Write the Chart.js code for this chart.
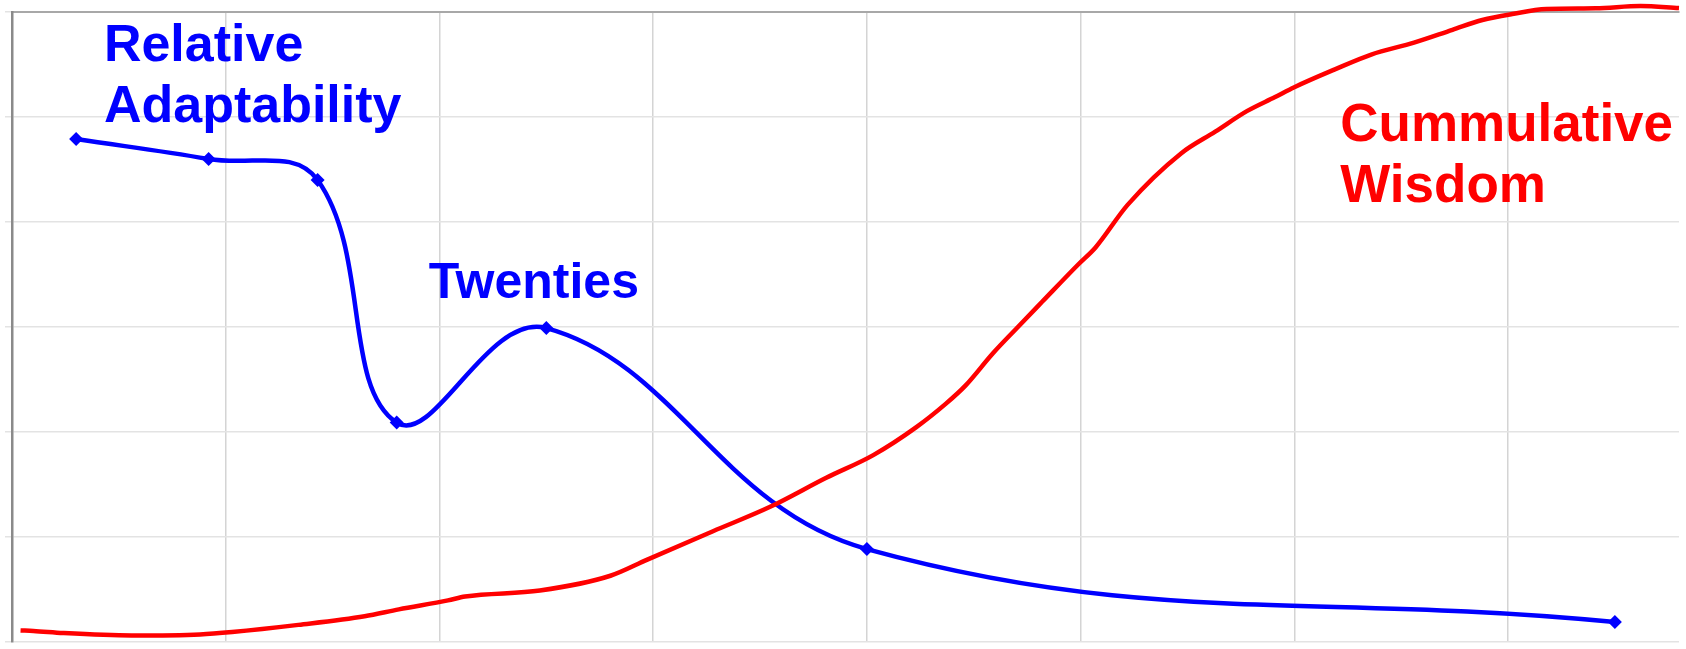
<!DOCTYPE html>
<html>
<head>
  <title>Adaptability and Wisdom</title>
  <script src="https://cdn.jsdelivr.net/npm/chart.js"></script>
  <style>
    body {
      margin: 0;
      overflow: hidden;
      background-color: #ffffff;
    }
    .chart-container {
      position: relative;
      width: 1686px;
      height: 649px;
    }
  </style>
</head>
<body>
  <div class="chart-container">
    <canvas id="lifeChart"></canvas>
  </div>

  <script>
    // Relative adaptability (blue, with diamond markers)
    const adaptAges = [3, 9.2, 14.3, 18, 25, 40, 75];
    const adaptValues = [4.79, 4.6, 4.4, 2.09, 2.99, 0.885, 0.19];

    // Cumulative wisdom (red, no markers)
    const wisdomAges = [0.4, 1, 2.4, 5.6, 8.8, 10.3, 13.4, 16.5, 18.1, 20.4, 21.2, 24.7, 28, 29.7,
      32.8, 35.5, 38.1, 40.3, 42.3, 43.7, 44.6, 45.9, 47, 48.2, 49.9, 50.7, 52.2, 54.7, 56.3,
      57.8, 59.1, 60, 61.9, 63.6, 65.6, 67.4, 68.8, 70.2, 71.8, 74.1, 76.2, 78];
    const wisdomValues = [0.11, 0.105, 0.085, 0.062, 0.072, 0.095, 0.163, 0.245, 0.311, 0.396, 0.433,
      0.49, 0.631, 0.782, 1.055, 1.29, 1.564, 1.78, 2.044, 2.27, 2.439, 2.75, 2.986, 3.24, 3.598,
      3.758, 4.163, 4.653, 4.86, 5.058, 5.19, 5.284, 5.454, 5.595, 5.708, 5.83, 5.924, 5.981,
      6.028, 6.035, 6.056, 6.037];

    // Annotation labels: lines, colour, size, anchor (age, value of first baseline)
    const labelLines = [['Relative', 'Adaptability'], ['Twenties'], ['Cummulative', 'Wisdom']];
    const labelColors = ['#0000ff', '#0000ff', '#ff0000'];
    const labelSizes = [52, 50, 53];
    const labelAges = [4.3, 19.5, 62.15];
    const labelValues = [5.538, 3.278, 4.775];

    const textLabels = {
      id: 'textLabels',
      afterDatasetsDraw(chart) {
        const ctx = chart.ctx;
        const xs = chart.scales.x;
        const ys = chart.scales.y;
        ctx.save();
        ctx.textAlign = 'left';
        ctx.textBaseline = 'alphabetic';
        labelLines.forEach((lines, i) => {
          ctx.fillStyle = labelColors[i];
          ctx.font = 'bold ' + labelSizes[i] + 'px "Liberation Sans", Arial, sans-serif';
          const x = xs.getPixelForValue(labelAges[i]);
          const y = ys.getPixelForValue(labelValues[i]);
          lines.forEach((line, j) => {
            ctx.fillText(line, x, y + j * 61);
          });
        });
        ctx.restore();
      }
    };

    const ctx = document.getElementById('lifeChart').getContext('2d');
    const chart = new Chart(ctx, {
      type: 'line',
      data: {
        datasets: [
          {
            label: 'Cummulative Wisdom',
            data: wisdomAges.map((a, i) => ({ x: a, y: wisdomValues[i] })),
            borderColor: '#ff0000',
            borderWidth: 4.5,
            pointRadius: 0,
            cubicInterpolationMode: 'monotone',
            fill: false,
            clip: false,
          },
          {
            label: 'Relative Adaptability',
            data: adaptAges.map((a, i) => ({ x: a, y: adaptValues[i] })),
            borderColor: '#0000ff',
            backgroundColor: '#0000ff',
            borderWidth: 4.5,
            pointStyle: 'rectRot',
            pointRadius: 7,
            pointBorderWidth: 0,
            tension: 0.4,
            fill: false,
            clip: false,
          },
        ],
      },
      options: {
        responsive: true,
        maintainAspectRatio: false,
        animation: false,
        layout: {
          padding: { left: 5, top: 12, right: 0, bottom: 0 },
        },
        plugins: {
          legend: { display: false },
          tooltip: { enabled: false },
        },
        scales: {
          x: {
            type: 'linear',
            position: 'top',
            min: 0,
            max: 78,
            afterBuildTicks: (scale) => {
              scale.ticks = scale.ticks.filter(t => t.value % 10 === 0);
            },
            ticks: { display: false, stepSize: 10 },
            grid: { color: '#d4d4d4', lineWidth: 1.5, drawTicks: false },
            border: { display: true, color: '#a8a8a8', width: 2 },
          },
          y: {
            min: 0,
            max: 6,
            ticks: { display: false, stepSize: 1 },
            grid: { color: '#e3e3e3', lineWidth: 1.5, drawTicks: true, tickLength: 7 },
            border: { display: true, color: '#8a8a8a', width: 2.5 },
          },
        },
      },
      plugins: [textLabels],
    });
  </script>
</body>
</html>
